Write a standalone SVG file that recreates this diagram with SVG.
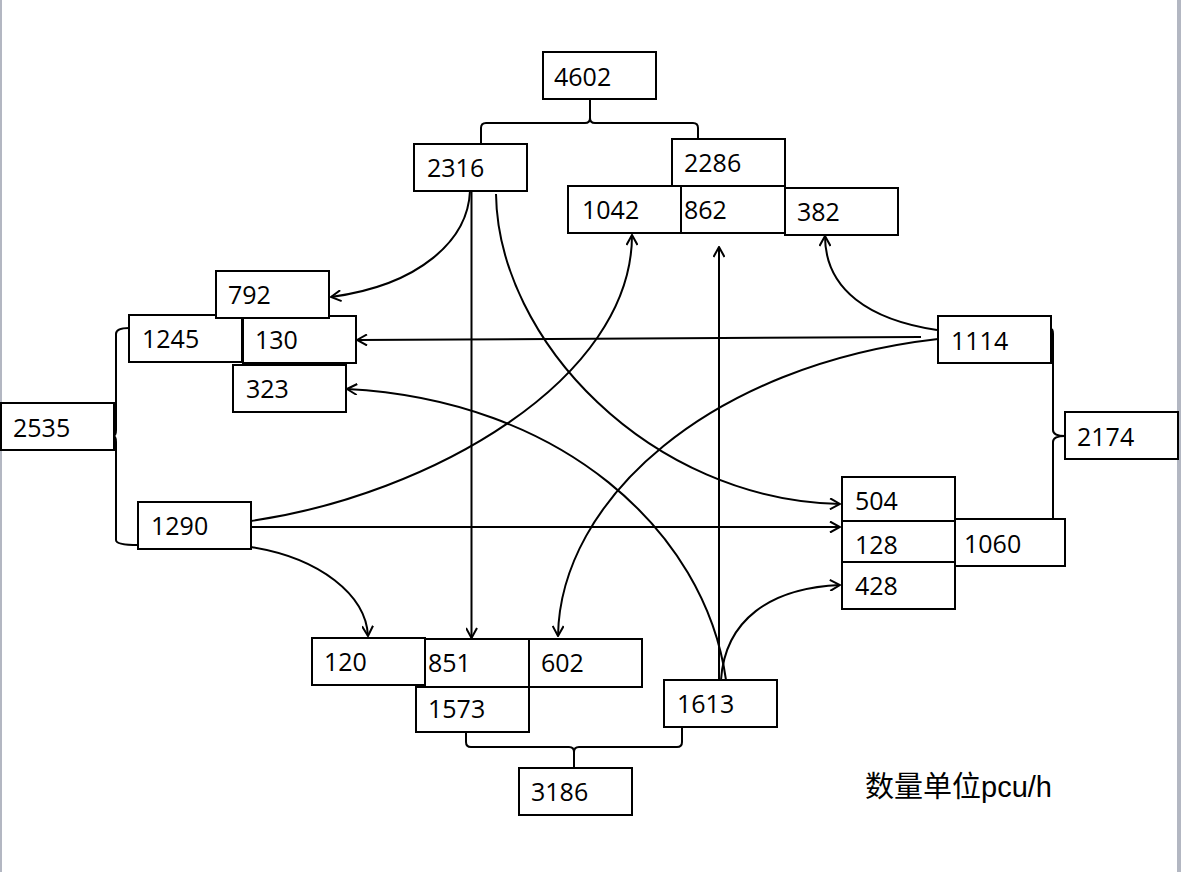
<svg xmlns="http://www.w3.org/2000/svg" width="1181" height="872" viewBox="0 0 1181 872">
<style>
.box rect{fill:#fff;stroke:#000;stroke-width:2}
.box text{font-family:"Open Sans","Liberation Sans",sans-serif;font-size:25px;fill:#000}
.conn path,.conn line{fill:none;stroke:#000;stroke-width:2}
.brace path{fill:none;stroke:#000;stroke-width:2}
.cap{font-family:"Liberation Sans","Noto Sans CJK SC",sans-serif;font-size:29px;fill:#000}
</style>
<defs>
<marker id="arr" viewBox="0 0 12 12" refX="11" refY="6" markerWidth="12" markerHeight="12" markerUnits="userSpaceOnUse" orient="auto">
<path d="M1,0.5 L11,6 L1,11.5" fill="none" stroke="#000" stroke-width="2"/>
</marker>
</defs>
<rect x="0" y="0" width="1181" height="872" fill="#fff"/>
<rect x="0" y="0" width="2" height="872" fill="#b3b7c2"/>
<rect x="1177" y="0" width="4" height="872" fill="#b3b7c2"/>

<g class="brace" id="braces">
<path d="M481,144 L481,128 Q481,123 486,123 L585,123 Q590,123 590,118 L590,99 M590,118 Q590,123 595,123 L693,123 Q698,123 698,128 L698,139"/>
<path d="M466,732 L466,742 Q466,747 471,747 L569,747 Q574,747 574,752 L574,768 M574,752 Q574,747 579,747 L677,747 Q682,747 682,742 L682,728"/>
<path d="M129,328 Q116,328 116,334 L116,430 Q116,436 113,436 Q116,436 116,442 L116,540 Q116,545 138,545"/>
<path d="M1051,329 Q1053,329 1053,334 L1053,430 Q1053,436 1065,436 Q1053,436 1053,442 L1053,519"/>
</g>

<g class="conn" id="connectors">
<path d="M470,191 C468,240 420,285 331,297" marker-end="url(#arr)"/>
<line x1="471.5" y1="191" x2="471.5" y2="638" marker-end="url(#arr)"/>
<path d="M496,194 C498,340 650,500 840,504" marker-end="url(#arr)"/>
<path d="M251,521 C430,495 632,380 632,235" marker-end="url(#arr)"/>
<line x1="251" y1="527" x2="840" y2="527" marker-end="url(#arr)"/>
<path d="M251,547 C320,558 366,595 368,636" marker-end="url(#arr)"/>
<path d="M937,330 C870,320 825,290 825,236" marker-end="url(#arr)"/>
<line x1="921" y1="337" x2="357" y2="340" marker-end="url(#arr)"/>
<path d="M938,339 C710,365 560,500 558,636" marker-end="url(#arr)"/>
<line x1="719" y1="680" x2="719" y2="247" marker-end="url(#arr)"/>
<path d="M726,680 C705,530 560,400 347,389" marker-end="url(#arr)"/>
<path d="M721,680 C725,620 770,588 840,585" marker-end="url(#arr)"/>
</g>

<g class="box" id="n4602"><rect x="543" y="52" width="113" height="47"/><text x="554" y="86">4602</text></g>
<g class="box" id="n2316"><rect x="414" y="144" width="113" height="47"/><text x="427" y="177">2316</text></g>
<g class="box" id="n1042"><rect x="568" y="186" width="113" height="47"/><text x="582" y="219">1042</text></g>
<g class="box" id="n862"><rect x="681" y="186" width="104" height="47"/><text x="684" y="219">862</text></g>
<g class="box" id="n2286"><rect x="672" y="139" width="113" height="47"/><text x="684" y="172">2286</text></g>
<g class="box" id="n382"><rect x="785" y="188" width="113" height="47"/><text x="797" y="221">382</text></g>
<g class="box" id="n1245"><rect x="129" y="315" width="113" height="47"/><text x="142" y="348">1245</text></g>
<g class="box" id="n130"><rect x="243" y="316" width="113" height="47"/><text x="255" y="349">130</text></g>
<g class="box" id="n792"><rect x="216" y="271" width="113" height="47"/><text x="228" y="304">792</text></g>
<g class="box" id="n323"><rect x="233" y="365" width="113" height="47"/><text x="246" y="398">323</text></g>
<g class="box" id="n2535"><rect x="1" y="403" width="113" height="47"/><text x="13" y="437">2535</text></g>
<g class="box" id="n1290"><rect x="138" y="502" width="113" height="47"/><text x="151" y="535">1290</text></g>
<g class="box" id="n1114"><rect x="938" y="316" width="113" height="47"/><text x="951" y="350">1114</text></g>
<g class="box" id="n2174"><rect x="1065" y="412" width="113" height="47"/><text x="1077" y="446">2174</text></g>
<g class="box" id="n504"><rect x="842" y="477" width="113" height="44"/><text x="855" y="510">504</text></g>
<g class="box" id="n128"><rect x="842" y="521" width="113" height="41"/><text x="855" y="554">128</text></g>
<g class="box" id="n428"><rect x="842" y="562" width="113" height="47"/><text x="855" y="595">428</text></g>
<g class="box" id="n1060"><rect x="955" y="519" width="110" height="47"/><text x="964" y="553">1060</text></g>
<g class="box" id="n851"><rect x="416" y="639" width="113" height="48"/><text x="428" y="672">851</text></g>
<g class="box" id="n120"><rect x="312" y="638" width="113" height="47"/><text x="324" y="671">120</text></g>
<g class="box" id="n602"><rect x="529" y="639" width="113" height="48"/><text x="541" y="672">602</text></g>
<g class="box" id="n1573"><rect x="416" y="687" width="113" height="45"/><text x="428" y="718">1573</text></g>
<g class="box" id="n1613"><rect x="664" y="680" width="113" height="47"/><text x="677" y="713">1613</text></g>
<g class="box" id="n3186"><rect x="519" y="768" width="113" height="47"/><text x="531" y="801">3186</text></g>

<text class="cap" x="865" y="797">数量单位pcu/h</text>
</svg>
